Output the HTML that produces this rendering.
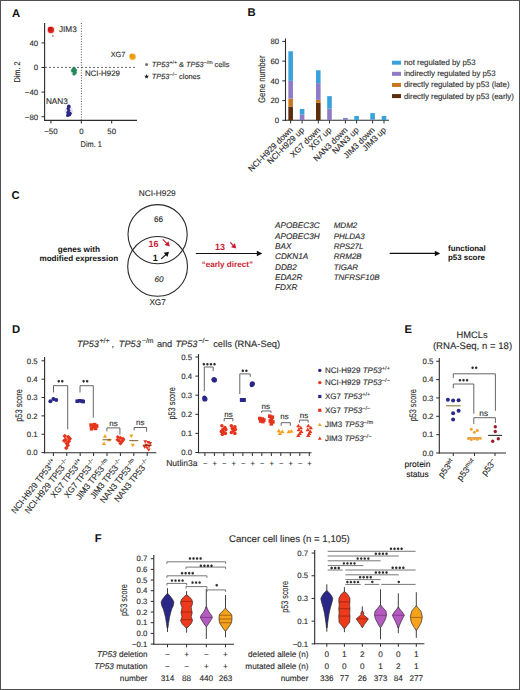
<!DOCTYPE html>
<html><head><meta charset="utf-8"><style>
html,body{margin:0;padding:0;background:#fff;}
body{width:520px;height:690px;overflow:hidden;}
svg{display:block;font-family:"Liberation Sans",sans-serif;text-rendering:geometricPrecision;}
</style></head><body>
<svg width="520" height="690" viewBox="0 0 520 690" fill="#2b2b2b">
<rect x="0" y="0" width="520" height="690" fill="#fff"/>
<text x="12.00" y="16.50" font-size="11.3" font-weight="bold" fill="#111" >A</text>
<line x1="81.40" y1="23.00" x2="81.40" y2="120.00" stroke="#444" stroke-width="0.9" stroke-dasharray="1,1.6"/>
<line x1="45.00" y1="67.40" x2="137.00" y2="67.40" stroke="#555" stroke-width="0.9" stroke-dasharray="2,2"/>
<line x1="44.60" y1="23.00" x2="44.60" y2="120.90" stroke="#2b2b2b" stroke-width="1.1" />
<line x1="44.10" y1="120.40" x2="137.00" y2="120.40" stroke="#2b2b2b" stroke-width="1.1" />
<line x1="41.50" y1="42.90" x2="44.60" y2="42.90" stroke="#2b2b2b" stroke-width="1" />
<text x="38.10" y="45.70" font-size="7.8" text-anchor="end" stroke="#2b2b2b" stroke-width="0.12" >40</text>
<line x1="41.50" y1="67.50" x2="44.60" y2="67.50" stroke="#2b2b2b" stroke-width="1" />
<text x="38.10" y="70.30" font-size="7.8" text-anchor="end" stroke="#2b2b2b" stroke-width="0.12" >0</text>
<line x1="41.50" y1="92.10" x2="44.60" y2="92.10" stroke="#2b2b2b" stroke-width="1" />
<text x="38.10" y="94.90" font-size="7.8" text-anchor="end" stroke="#2b2b2b" stroke-width="0.12" >−40</text>
<line x1="41.50" y1="116.70" x2="44.60" y2="116.70" stroke="#2b2b2b" stroke-width="1" />
<text x="38.10" y="119.50" font-size="7.8" text-anchor="end" stroke="#2b2b2b" stroke-width="0.12" >−80</text>
<line x1="50.90" y1="120.40" x2="50.90" y2="123.50" stroke="#2b2b2b" stroke-width="1" />
<text x="50.90" y="134.00" font-size="7.8" text-anchor="middle" stroke="#2b2b2b" stroke-width="0.12" >−50</text>
<line x1="81.30" y1="120.40" x2="81.30" y2="123.50" stroke="#2b2b2b" stroke-width="1" />
<text x="81.30" y="134.00" font-size="7.8" text-anchor="middle" stroke="#2b2b2b" stroke-width="0.12" >0</text>
<line x1="111.70" y1="120.40" x2="111.70" y2="123.50" stroke="#2b2b2b" stroke-width="1" />
<text x="111.70" y="134.00" font-size="7.8" text-anchor="middle" stroke="#2b2b2b" stroke-width="0.12" >50</text>
<text x="91.30" y="146.60" font-size="8.2" text-anchor="middle" stroke="#2b2b2b" stroke-width="0.12" textLength="21.4" lengthAdjust="spacingAndGlyphs" >Dim. 1</text>
<text x="20.20" y="72.00" font-size="8.4" text-anchor="middle" stroke="#2b2b2b" stroke-width="0.12" textLength="21.2" lengthAdjust="spacingAndGlyphs" transform="rotate(-90 20.20 72.00)" >Dim. 2</text>
<circle cx="50.90" cy="29.90" r="4.0" fill="#f08080" opacity="0.35"/>
<circle cx="132.60" cy="56.70" r="3.8" fill="#f5c060" opacity="0.35"/>
<circle cx="74.00" cy="71.30" r="3.6" fill="#80c0a0" opacity="0.3"/>
<circle cx="68.80" cy="111.00" r="4.2" fill="#8080c0" opacity="0.25"/>
<circle cx="50.90" cy="29.90" r="3.1" fill="#e4201e" />
<circle cx="49.90" cy="29.10" r="2.0" fill="#cc1414" />
<circle cx="52.80" cy="36.00" r="1.0" fill="#b89090" />
<circle cx="132.60" cy="56.70" r="3.0" fill="#f2a31b" />
<circle cx="131.60" cy="55.80" r="2.0" fill="#ea9a10" />
<circle cx="74.00" cy="68.60" r="1.8" fill="#25875a" />
<circle cx="73.00" cy="70.60" r="2.0" fill="#25875a" />
<circle cx="74.80" cy="72.50" r="1.9" fill="#25875a" />
<circle cx="74.00" cy="74.00" r="1.6" fill="#25875a" />
<circle cx="75.50" cy="70.20" r="1.4" fill="#25875a" />
<circle cx="68.80" cy="106.50" r="1.9" fill="#2b2788" />
<circle cx="68.20" cy="108.60" r="1.6" fill="#2b2788" />
<circle cx="68.90" cy="110.60" r="1.5" fill="#2b2788" />
<circle cx="68.10" cy="112.60" r="1.8" fill="#2b2788" />
<circle cx="69.20" cy="114.50" r="2.1" fill="#2b2788" />
<circle cx="67.60" cy="115.40" r="1.6" fill="#2b2788" />
<circle cx="70.20" cy="113.20" r="1.5" fill="#2b2788" />
<text x="59.00" y="32.20" font-size="8.2" stroke="#2b2b2b" stroke-width="0.12" >JIM3</text>
<text x="110.70" y="57.00" font-size="7.4" stroke="#2b2b2b" stroke-width="0.12" >XG7</text>
<text x="84.90" y="76.40" font-size="7.9" stroke="#2b2b2b" stroke-width="0.12" >NCI-H929</text>
<text x="45.90" y="103.60" font-size="8.2" stroke="#2b2b2b" stroke-width="0.12" >NAN3</text>
<circle cx="146.60" cy="64.50" r="1.5" fill="#707070" />
<polygon points="146.60,74.10 147.26,75.69 148.98,75.83 147.67,76.95 148.07,78.62 146.60,77.72 145.13,78.62 145.53,76.95 144.22,75.83 145.94,75.69" fill="#222"/>
<text x="151.80" y="66.90" font-size="7.4" stroke="#2b2b2b" stroke-width="0.12" ><tspan font-style="italic">TP53</tspan><tspan font-size="5.2" dy="-3.2">+/+</tspan><tspan dy="3.2"> &amp; </tspan><tspan font-style="italic">TP53</tspan><tspan font-size="5.2" dy="-3.2">−/m</tspan><tspan dy="3.2"> cells</tspan></text>
<text x="151.80" y="79.00" font-size="7.4" stroke="#2b2b2b" stroke-width="0.12" ><tspan font-style="italic">TP53</tspan><tspan font-size="5.2" dy="-3.2">−/−</tspan><tspan dy="3.2"> clones</tspan></text>
<text x="247.60" y="16.30" font-size="11.3" font-weight="bold" fill="#111" >B</text>
<line x1="285.50" y1="38.50" x2="285.50" y2="120.80" stroke="#2b2b2b" stroke-width="1.1" />
<line x1="285.00" y1="120.30" x2="389.00" y2="120.30" stroke="#2b2b2b" stroke-width="1.1" />
<line x1="282.30" y1="120.30" x2="285.50" y2="120.30" stroke="#2b2b2b" stroke-width="1" />
<text x="279.10" y="123.10" font-size="7.8" text-anchor="end" stroke="#2b2b2b" stroke-width="0.12" >0</text>
<line x1="282.30" y1="100.58" x2="285.50" y2="100.58" stroke="#2b2b2b" stroke-width="1" />
<text x="279.10" y="103.38" font-size="7.8" text-anchor="end" stroke="#2b2b2b" stroke-width="0.12" >20</text>
<line x1="282.30" y1="80.86" x2="285.50" y2="80.86" stroke="#2b2b2b" stroke-width="1" />
<text x="279.10" y="83.66" font-size="7.8" text-anchor="end" stroke="#2b2b2b" stroke-width="0.12" >40</text>
<line x1="282.30" y1="61.14" x2="285.50" y2="61.14" stroke="#2b2b2b" stroke-width="1" />
<text x="279.10" y="63.94" font-size="7.8" text-anchor="end" stroke="#2b2b2b" stroke-width="0.12" >60</text>
<line x1="282.30" y1="41.42" x2="285.50" y2="41.42" stroke="#2b2b2b" stroke-width="1" />
<text x="279.10" y="44.22" font-size="7.8" text-anchor="end" stroke="#2b2b2b" stroke-width="0.12" >80</text>
<text x="265.40" y="79.20" font-size="9.5" text-anchor="middle" stroke="#2b2b2b" stroke-width="0.12" textLength="47.4" lengthAdjust="spacingAndGlyphs" transform="rotate(-90 265.40 79.20)" >Gene number</text>
<rect x="288.35" y="106.50" width="4.60" height="13.80" fill="#5b2d0c" />
<rect x="288.35" y="98.61" width="4.60" height="7.89" fill="#c8761f" />
<rect x="288.35" y="80.86" width="4.60" height="17.75" fill="#8d7bc5" />
<rect x="288.35" y="51.28" width="4.60" height="29.58" fill="#3aa2da" />
<line x1="290.65" y1="120.30" x2="290.65" y2="123.40" stroke="#2b2b2b" stroke-width="1" />
<rect x="299.80" y="114.38" width="4.60" height="5.92" fill="#8d7bc5" />
<rect x="299.80" y="108.96" width="4.60" height="5.42" fill="#3aa2da" />
<line x1="302.10" y1="120.30" x2="302.10" y2="123.40" stroke="#2b2b2b" stroke-width="1" />
<rect x="316.00" y="102.85" width="4.60" height="17.45" fill="#5b2d0c" />
<rect x="316.00" y="99.89" width="4.60" height="2.96" fill="#c8761f" />
<rect x="316.00" y="83.13" width="4.60" height="16.76" fill="#8d7bc5" />
<rect x="316.00" y="70.31" width="4.60" height="12.82" fill="#3aa2da" />
<line x1="318.30" y1="120.30" x2="318.30" y2="123.40" stroke="#2b2b2b" stroke-width="1" />
<rect x="327.20" y="108.47" width="4.60" height="11.83" fill="#8d7bc5" />
<rect x="327.20" y="96.14" width="4.60" height="12.32" fill="#3aa2da" />
<line x1="329.50" y1="120.30" x2="329.50" y2="123.40" stroke="#2b2b2b" stroke-width="1" />
<rect x="343.10" y="119.12" width="4.60" height="1.18" fill="#8d7bc5" />
<rect x="343.10" y="117.93" width="4.60" height="1.18" fill="#6f8fb8" />
<line x1="345.40" y1="120.30" x2="345.40" y2="123.40" stroke="#2b2b2b" stroke-width="1" />
<rect x="354.30" y="115.96" width="4.60" height="4.34" fill="#3aa2da" />
<line x1="356.60" y1="120.30" x2="356.60" y2="123.40" stroke="#2b2b2b" stroke-width="1" />
<rect x="370.30" y="119.51" width="4.60" height="0.79" fill="#8d7bc5" />
<rect x="370.30" y="113.10" width="4.60" height="6.41" fill="#3aa2da" />
<line x1="372.60" y1="120.30" x2="372.60" y2="123.40" stroke="#2b2b2b" stroke-width="1" />
<rect x="381.70" y="115.96" width="4.60" height="4.34" fill="#3aa2da" />
<line x1="384.00" y1="120.30" x2="384.00" y2="123.40" stroke="#2b2b2b" stroke-width="1" />
<text x="293.25" y="130.60" font-size="8.3" text-anchor="end" stroke="#2b2b2b" stroke-width="0.12" transform="rotate(-45 293.25 130.60)" >NCI-H929 down</text>
<text x="304.70" y="130.60" font-size="8.3" text-anchor="end" stroke="#2b2b2b" stroke-width="0.12" transform="rotate(-45 304.70 130.60)" >NCI-H929 up</text>
<text x="320.90" y="130.60" font-size="8.3" text-anchor="end" stroke="#2b2b2b" stroke-width="0.12" transform="rotate(-45 320.90 130.60)" >XG7 down</text>
<text x="332.10" y="130.60" font-size="8.3" text-anchor="end" stroke="#2b2b2b" stroke-width="0.12" transform="rotate(-45 332.10 130.60)" >XG7 up</text>
<text x="348.00" y="130.60" font-size="8.3" text-anchor="end" stroke="#2b2b2b" stroke-width="0.12" transform="rotate(-45 348.00 130.60)" >NAN3 down</text>
<text x="359.20" y="130.60" font-size="8.3" text-anchor="end" stroke="#2b2b2b" stroke-width="0.12" transform="rotate(-45 359.20 130.60)" >NAN3 up</text>
<text x="375.20" y="130.60" font-size="8.3" text-anchor="end" stroke="#2b2b2b" stroke-width="0.12" transform="rotate(-45 375.20 130.60)" >JIM3 down</text>
<text x="386.60" y="130.60" font-size="8.3" text-anchor="end" stroke="#2b2b2b" stroke-width="0.12" transform="rotate(-45 386.60 130.60)" >JIM3 up</text>
<rect x="392.00" y="60.70" width="9.00" height="4.00" fill="#3aa2da" />
<text x="404.00" y="65.20" font-size="7.85" stroke="#2b2b2b" stroke-width="0.12" >not regulated by p53</text>
<rect x="392.00" y="71.83" width="9.00" height="4.00" fill="#8d7bc5" />
<text x="404.00" y="76.33" font-size="7.85" stroke="#2b2b2b" stroke-width="0.12" >indirectly regulated by p53</text>
<rect x="392.00" y="82.96" width="9.00" height="4.00" fill="#c8761f" />
<text x="404.00" y="87.46" font-size="7.85" stroke="#2b2b2b" stroke-width="0.12" >directly regulated by p53 (late)</text>
<rect x="392.00" y="94.09" width="9.00" height="4.00" fill="#5b2d0c" />
<text x="404.00" y="98.59" font-size="7.85" stroke="#2b2b2b" stroke-width="0.12" >directly regulated by p53 (early)</text>
<text x="11.60" y="198.50" font-size="11.3" font-weight="bold" fill="#111" >C</text>
<text x="157.20" y="195.80" font-size="8.3" text-anchor="middle" stroke="#2b2b2b" stroke-width="0.12" >NCI-H929</text>
<circle cx="157.6" cy="234.2" r="29.6" fill="none" stroke="#2b2b2b" stroke-width="1.1"/>
<circle cx="157.6" cy="266.4" r="29.9" fill="none" stroke="#2b2b2b" stroke-width="1.1"/>
<text x="158.50" y="221.60" font-size="8.2" text-anchor="middle" stroke="#2b2b2b" stroke-width="0.12" >66</text>
<text x="153.60" y="247.30" font-size="9" text-anchor="middle" font-weight="bold" fill="#cc1a30" >16</text>
<line x1="162.70" y1="239.30" x2="168.03" y2="244.63" stroke="#cc1a30" stroke-width="1.2" />
<polygon points="169.80,246.40 164.60,245.10 168.50,241.20" fill="#cc1a30"/>
<text x="155.30" y="260.60" font-size="9" text-anchor="middle" font-weight="bold" fill="#111" >1</text>
<line x1="161.20" y1="258.90" x2="167.15" y2="253.48" stroke="#111" stroke-width="1.2" />
<polygon points="169.00,251.80 167.46,256.94 163.74,252.86" fill="#111"/>
<text x="159.00" y="282.40" font-size="8.2" text-anchor="middle" font-style="italic" stroke="#2b2b2b" stroke-width="0.12" >60</text>
<text x="157.60" y="304.80" font-size="8.2" text-anchor="middle" stroke="#2b2b2b" stroke-width="0.12" >XG7</text>
<text x="78.80" y="252.40" font-size="8.2" text-anchor="middle" font-weight="bold" fill="#111" >genes with</text>
<text x="78.80" y="261.20" font-size="8.1" text-anchor="middle" font-weight="bold" fill="#111" >modified expression</text>
<line x1="195.80" y1="253.50" x2="258.00" y2="253.50" stroke="#111" stroke-width="1.1" />
<polygon points="262.30,253.50 256.80,256.25 256.80,250.75" fill="#111"/>
<text x="220.00" y="250.30" font-size="9" text-anchor="middle" font-weight="bold" fill="#cc1a30" >13</text>
<line x1="230.30" y1="242.40" x2="234.48" y2="246.79" stroke="#cc1a30" stroke-width="1.2" />
<polygon points="236.20,248.60 231.03,247.17 235.03,243.37" fill="#cc1a30"/>
<text x="227.30" y="266.50" font-size="8.1" text-anchor="middle" font-weight="bold" fill="#cc1a30" >“early direct”</text>
<text x="275.00" y="228.40" font-size="8.2" font-style="italic" stroke="#2b2b2b" stroke-width="0.12" >APOBEC3C</text>
<text x="275.00" y="238.70" font-size="8.2" font-style="italic" stroke="#2b2b2b" stroke-width="0.12" >APOBEC3H</text>
<text x="275.00" y="249.00" font-size="8.2" font-style="italic" stroke="#2b2b2b" stroke-width="0.12" >BAX</text>
<text x="275.00" y="259.30" font-size="8.2" font-style="italic" stroke="#2b2b2b" stroke-width="0.12" >CDKN1A</text>
<text x="275.00" y="269.60" font-size="8.2" font-style="italic" stroke="#2b2b2b" stroke-width="0.12" >DDB2</text>
<text x="275.00" y="279.90" font-size="8.2" font-style="italic" stroke="#2b2b2b" stroke-width="0.12" >EDA2R</text>
<text x="275.00" y="290.20" font-size="8.2" font-style="italic" stroke="#2b2b2b" stroke-width="0.12" >FDXR</text>
<text x="333.70" y="228.40" font-size="8.0" font-style="italic" stroke="#2b2b2b" stroke-width="0.12" >MDM2</text>
<text x="333.70" y="238.70" font-size="8.0" font-style="italic" stroke="#2b2b2b" stroke-width="0.12" >PHLDA3</text>
<text x="333.70" y="249.00" font-size="8.0" font-style="italic" stroke="#2b2b2b" stroke-width="0.12" >RPS27L</text>
<text x="333.70" y="259.30" font-size="8.0" font-style="italic" stroke="#2b2b2b" stroke-width="0.12" >RRM2B</text>
<text x="333.70" y="269.60" font-size="8.0" font-style="italic" stroke="#2b2b2b" stroke-width="0.12" >TIGAR</text>
<text x="333.70" y="279.90" font-size="8.0" font-style="italic" stroke="#2b2b2b" stroke-width="0.12" >TNFRSF10B</text>
<line x1="389.70" y1="253.40" x2="436.00" y2="253.40" stroke="#111" stroke-width="1.1" />
<polygon points="440.30,253.40 434.80,256.15 434.80,250.65" fill="#111"/>
<text x="448.00" y="250.80" font-size="7.9" font-weight="bold" fill="#111" >functional</text>
<text x="448.00" y="260.40" font-size="7.9" font-weight="bold" fill="#111" >p53 score</text>
<text x="12.00" y="332.50" font-size="11.3" font-weight="bold" fill="#111" >D</text>
<text x="77.00" y="347.20" font-size="9.2" font-style="italic" stroke="#2b2b2b" stroke-width="0.12" >TP53</text>
<text x="99.40" y="342.60" font-size="7.0" stroke="#2b2b2b" stroke-width="0.12" >+/+</text>
<text x="111.40" y="347.20" font-size="9.2" stroke="#2b2b2b" stroke-width="0.12" >,</text>
<text x="118.80" y="347.20" font-size="9.2" font-style="italic" stroke="#2b2b2b" stroke-width="0.12" >TP53</text>
<text x="142.00" y="342.60" font-size="6.8" stroke="#2b2b2b" stroke-width="0.12" >−/m</text>
<text x="156.90" y="347.20" font-size="9.2" stroke="#2b2b2b" stroke-width="0.12" >and</text>
<text x="175.50" y="347.20" font-size="9.2" font-style="italic" stroke="#2b2b2b" stroke-width="0.12" >TP53</text>
<text x="198.20" y="342.60" font-size="7.2" stroke="#2b2b2b" stroke-width="0.12" >−/−</text>
<text x="213.20" y="347.20" font-size="9.2" stroke="#2b2b2b" stroke-width="0.12" textLength="67.0" lengthAdjust="spacingAndGlyphs" >cells (RNA-Seq)</text>
<line x1="44.60" y1="357.00" x2="44.60" y2="453.20" stroke="#2b2b2b" stroke-width="1.1" />
<line x1="44.10" y1="452.80" x2="156.30" y2="452.80" stroke="#2b2b2b" stroke-width="1.1" />
<line x1="41.50" y1="452.60" x2="44.60" y2="452.60" stroke="#2b2b2b" stroke-width="1" />
<text x="37.70" y="455.30" font-size="7.8" text-anchor="end" stroke="#2b2b2b" stroke-width="0.12" >0.0</text>
<line x1="41.50" y1="434.24" x2="44.60" y2="434.24" stroke="#2b2b2b" stroke-width="1" />
<text x="37.70" y="436.94" font-size="7.8" text-anchor="end" stroke="#2b2b2b" stroke-width="0.12" >0.1</text>
<line x1="41.50" y1="415.88" x2="44.60" y2="415.88" stroke="#2b2b2b" stroke-width="1" />
<text x="37.70" y="418.58" font-size="7.8" text-anchor="end" stroke="#2b2b2b" stroke-width="0.12" >0.2</text>
<line x1="41.50" y1="397.52" x2="44.60" y2="397.52" stroke="#2b2b2b" stroke-width="1" />
<text x="37.70" y="400.22" font-size="7.8" text-anchor="end" stroke="#2b2b2b" stroke-width="0.12" >0.3</text>
<line x1="41.50" y1="379.16" x2="44.60" y2="379.16" stroke="#2b2b2b" stroke-width="1" />
<text x="37.70" y="381.86" font-size="7.8" text-anchor="end" stroke="#2b2b2b" stroke-width="0.12" >0.4</text>
<line x1="41.50" y1="360.80" x2="44.60" y2="360.80" stroke="#2b2b2b" stroke-width="1" />
<text x="37.70" y="363.50" font-size="7.8" text-anchor="end" stroke="#2b2b2b" stroke-width="0.12" >0.5</text>
<text x="21.60" y="405.50" font-size="9.5" text-anchor="middle" stroke="#2b2b2b" stroke-width="0.12" textLength="32.6" lengthAdjust="spacingAndGlyphs" transform="rotate(-90 21.60 405.50)" >p53 score</text>
<line x1="53.40" y1="452.80" x2="53.40" y2="456.00" stroke="#2b2b2b" stroke-width="1" />
<line x1="66.80" y1="452.80" x2="66.80" y2="456.00" stroke="#2b2b2b" stroke-width="1" />
<line x1="80.20" y1="452.80" x2="80.20" y2="456.00" stroke="#2b2b2b" stroke-width="1" />
<line x1="93.60" y1="452.80" x2="93.60" y2="456.00" stroke="#2b2b2b" stroke-width="1" />
<line x1="107.00" y1="452.80" x2="107.00" y2="456.00" stroke="#2b2b2b" stroke-width="1" />
<line x1="120.40" y1="452.80" x2="120.40" y2="456.00" stroke="#2b2b2b" stroke-width="1" />
<line x1="133.80" y1="452.80" x2="133.80" y2="456.00" stroke="#2b2b2b" stroke-width="1" />
<line x1="147.20" y1="452.80" x2="147.20" y2="456.00" stroke="#2b2b2b" stroke-width="1" />
<circle cx="50.40" cy="401.19" r="2.0" fill="#2b2788" />
<circle cx="53.40" cy="398.99" r="2.0" fill="#2b2788" />
<circle cx="56.20" cy="399.91" r="2.0" fill="#2b2788" />
<polygon points="64.80,433.78 67.10,436.08 64.80,438.38 62.50,436.08" fill="#e5331c"/>
<polygon points="68.30,434.69 70.60,436.99 68.30,439.29 66.00,436.99" fill="#e5331c"/>
<polygon points="69.80,436.53 72.10,438.83 69.80,441.13 67.50,438.83" fill="#e5331c"/>
<polygon points="65.80,437.45 68.10,439.75 65.80,442.05 63.50,439.75" fill="#e5331c"/>
<polygon points="68.80,439.28 71.10,441.58 68.80,443.88 66.50,441.58" fill="#e5331c"/>
<polygon points="64.30,438.37 66.60,440.67 64.30,442.97 62.00,440.67" fill="#e5331c"/>
<polygon points="66.80,441.12 69.10,443.42 66.80,445.72 64.50,443.42" fill="#e5331c"/>
<polygon points="67.80,442.96 70.10,445.26 67.80,447.56 65.50,445.26" fill="#e5331c"/>
<polygon points="66.30,445.71 68.60,448.01 66.30,450.31 64.00,448.01" fill="#e5331c"/>
<rect x="75.40" y="399.39" width="3.60" height="3.60" fill="#2b2788" />
<rect x="77.90" y="399.02" width="3.60" height="3.60" fill="#2b2788" />
<rect x="80.40" y="399.39" width="3.60" height="3.60" fill="#2b2788" />
<rect x="81.40" y="399.76" width="3.60" height="3.60" fill="#2b2788" />
<rect x="89.30" y="423.26" width="3.60" height="3.60" fill="#e5331c" />
<rect x="92.80" y="422.89" width="3.60" height="3.60" fill="#e5331c" />
<rect x="94.80" y="424.18" width="3.60" height="3.60" fill="#e5331c" />
<rect x="89.80" y="426.93" width="3.60" height="3.60" fill="#e5331c" />
<rect x="93.80" y="426.56" width="3.60" height="3.60" fill="#e5331c" />
<rect x="91.80" y="425.10" width="3.60" height="3.60" fill="#e5331c" />
<polygon points="102.90,437.65 107.10,437.65 105.00,434.08" fill="#f5a01d"/>
<polygon points="101.90,445.00 106.10,445.00 104.00,441.43" fill="#f5a01d"/>
<polygon points="106.90,441.32 111.10,441.32 109.00,437.75" fill="#f5a01d"/>
<line x1="102.50" y1="439.75" x2="111.50" y2="439.75" stroke="#7a5a20" stroke-width="1" />
<polygon points="117.90,434.89 120.00,436.99 117.90,439.09 115.80,436.99" fill="#e5331c"/>
<polygon points="120.40,435.81 122.50,437.91 120.40,440.01 118.30,437.91" fill="#e5331c"/>
<polygon points="122.90,436.73 125.00,438.83 122.90,440.93 120.80,438.83" fill="#e5331c"/>
<polygon points="118.90,438.57 121.00,440.67 118.90,442.77 116.80,440.67" fill="#e5331c"/>
<polygon points="121.90,439.48 124.00,441.58 121.90,443.68 119.80,441.58" fill="#e5331c"/>
<polygon points="123.40,437.65 125.50,439.75 123.40,441.85 121.30,439.75" fill="#e5331c"/>
<polygon points="117.40,437.65 119.50,439.75 117.40,441.85 115.30,439.75" fill="#e5331c"/>
<polygon points="120.40,441.32 122.50,443.42 120.40,445.52 118.30,443.42" fill="#e5331c"/>
<polygon points="129.20,434.50 133.40,434.50 131.30,438.07" fill="#f5a01d"/>
<polygon points="130.70,443.68 134.90,443.68 132.80,447.25" fill="#f5a01d"/>
<line x1="129.30" y1="440.67" x2="138.30" y2="440.67" stroke="#7a5a20" stroke-width="1" />
<polygon points="143.30,440.16 147.10,440.16 145.20,443.39" fill="#e5331c"/>
<polygon points="146.30,441.08 150.10,441.08 148.20,444.31" fill="#e5331c"/>
<polygon points="148.30,442.00 152.10,442.00 150.20,445.23" fill="#e5331c"/>
<polygon points="144.30,443.83 148.10,443.83 146.20,447.06" fill="#e5331c"/>
<polygon points="147.30,444.75 151.10,444.75 149.20,447.98" fill="#e5331c"/>
<polygon points="145.30,446.59 149.10,446.59 147.20,449.82" fill="#e5331c"/>
<polygon points="142.80,445.67 146.60,445.67 144.70,448.90" fill="#e5331c"/>
<polygon points="146.80,448.42 150.60,448.42 148.70,451.65" fill="#e5331c"/>
<line x1="142.70" y1="445.26" x2="151.70" y2="445.26" stroke="#7a2010" stroke-width="1" />
<polyline points="53.50,392.50 53.50,385.70 67.70,385.70 67.70,429.30" fill="none" stroke="#555" stroke-width="0.9"/>
<polygon points="58.73,379.70 59.27,380.26 60.02,380.45 59.80,381.20 60.02,381.95 59.27,382.14 58.73,382.70 58.19,382.14 57.43,381.95 57.65,381.20 57.43,380.45 58.19,380.26" fill="#2e2e2e"/>
<polygon points="62.27,379.70 62.81,380.26 63.57,380.45 63.35,381.20 63.57,381.95 62.81,382.14 62.27,382.70 61.73,382.14 60.98,381.95 61.20,381.20 60.98,380.45 61.73,380.26" fill="#2e2e2e"/>
<polyline points="80.00,392.50 80.00,385.70 93.30,385.70 93.30,417.60" fill="none" stroke="#555" stroke-width="0.9"/>
<polygon points="83.62,379.70 84.17,380.26 84.92,380.45 84.70,381.20 84.92,381.95 84.17,382.14 83.62,382.70 83.08,382.14 82.33,381.95 82.55,381.20 82.33,380.45 83.08,380.26" fill="#2e2e2e"/>
<polygon points="87.18,379.70 87.72,380.26 88.47,380.45 88.26,381.20 88.47,381.95 87.72,382.14 87.18,382.70 86.64,382.14 85.88,381.95 86.10,381.20 85.88,380.45 86.64,380.26" fill="#2e2e2e"/>
<polyline points="106.90,431.40 106.90,427.90 119.90,427.90 119.90,434.60" fill="none" stroke="#555" stroke-width="0.9"/>
<text x="113.50" y="426.08" font-size="8" text-anchor="middle" stroke="#2b2b2b" stroke-width="0.12" >ns</text>
<polyline points="134.10,430.30 134.10,427.50 146.60,427.50 146.60,431.70" fill="none" stroke="#555" stroke-width="0.9"/>
<text x="140.20" y="424.98" font-size="8" text-anchor="middle" stroke="#2b2b2b" stroke-width="0.12" >ns</text>
<text x="56.40" y="462.00" font-size="8.8" text-anchor="end" stroke="#2b2b2b" stroke-width="0.12" textLength="66.35" lengthAdjust="spacingAndGlyphs" transform="rotate(-52 56.40 462.00)" >NCI-H929 TP53<tspan font-size="5.6" dy="-3.2">+/+</tspan></text>
<text x="69.80" y="462.00" font-size="8.8" text-anchor="end" stroke="#2b2b2b" stroke-width="0.12" textLength="66.35" lengthAdjust="spacingAndGlyphs" transform="rotate(-52 69.80 462.00)" >NCI-H929 TP53<tspan font-size="5.6" dy="-3.2">−/−</tspan></text>
<text x="83.20" y="462.00" font-size="8.8" text-anchor="end" stroke="#2b2b2b" stroke-width="0.12" textLength="46.17" lengthAdjust="spacingAndGlyphs" transform="rotate(-52 83.20 462.00)" >XG7 TP53<tspan font-size="5.6" dy="-3.2">+/+</tspan></text>
<text x="96.60" y="462.00" font-size="8.8" text-anchor="end" stroke="#2b2b2b" stroke-width="0.12" textLength="46.17" lengthAdjust="spacingAndGlyphs" transform="rotate(-52 96.60 462.00)" >XG7 TP53<tspan font-size="5.6" dy="-3.2">−/−</tspan></text>
<text x="110.00" y="462.00" font-size="8.8" text-anchor="end" stroke="#2b2b2b" stroke-width="0.12" textLength="48.88" lengthAdjust="spacingAndGlyphs" transform="rotate(-52 110.00 462.00)" >JIM3 TP53<tspan font-size="5.6" dy="-3.2">−/m</tspan></text>
<text x="123.40" y="462.00" font-size="8.8" text-anchor="end" stroke="#2b2b2b" stroke-width="0.12" textLength="47.54" lengthAdjust="spacingAndGlyphs" transform="rotate(-52 123.40 462.00)" >JIM3 TP53<tspan font-size="5.6" dy="-3.2">−/−</tspan></text>
<text x="136.80" y="462.00" font-size="8.8" text-anchor="end" stroke="#2b2b2b" stroke-width="0.12" textLength="53.01" lengthAdjust="spacingAndGlyphs" transform="rotate(-52 136.80 462.00)" >NAN3 TP53<tspan font-size="5.6" dy="-3.2">−/m</tspan></text>
<text x="150.20" y="462.00" font-size="8.8" text-anchor="end" stroke="#2b2b2b" stroke-width="0.12" textLength="51.67" lengthAdjust="spacingAndGlyphs" transform="rotate(-52 150.20 462.00)" >NAN3 TP53<tspan font-size="5.6" dy="-3.2">−/−</tspan></text>
<line x1="198.50" y1="354.00" x2="198.50" y2="453.20" stroke="#2b2b2b" stroke-width="1.1" />
<line x1="198.00" y1="452.80" x2="311.50" y2="452.80" stroke="#2b2b2b" stroke-width="1.1" />
<line x1="195.40" y1="452.50" x2="198.50" y2="452.50" stroke="#2b2b2b" stroke-width="1" />
<text x="192.10" y="455.20" font-size="7.8" text-anchor="end" stroke="#2b2b2b" stroke-width="0.12" >0.0</text>
<line x1="195.40" y1="433.40" x2="198.50" y2="433.40" stroke="#2b2b2b" stroke-width="1" />
<text x="192.10" y="436.10" font-size="7.8" text-anchor="end" stroke="#2b2b2b" stroke-width="0.12" >0.1</text>
<line x1="195.40" y1="414.30" x2="198.50" y2="414.30" stroke="#2b2b2b" stroke-width="1" />
<text x="192.10" y="417.00" font-size="7.8" text-anchor="end" stroke="#2b2b2b" stroke-width="0.12" >0.2</text>
<line x1="195.40" y1="395.20" x2="198.50" y2="395.20" stroke="#2b2b2b" stroke-width="1" />
<text x="192.10" y="397.90" font-size="7.8" text-anchor="end" stroke="#2b2b2b" stroke-width="0.12" >0.3</text>
<line x1="195.40" y1="376.10" x2="198.50" y2="376.10" stroke="#2b2b2b" stroke-width="1" />
<text x="192.10" y="378.80" font-size="7.8" text-anchor="end" stroke="#2b2b2b" stroke-width="0.12" >0.4</text>
<line x1="195.40" y1="357.00" x2="198.50" y2="357.00" stroke="#2b2b2b" stroke-width="1" />
<text x="192.10" y="359.70" font-size="7.8" text-anchor="end" stroke="#2b2b2b" stroke-width="0.12" >0.5</text>
<text x="175.30" y="403.40" font-size="9.5" text-anchor="middle" stroke="#2b2b2b" stroke-width="0.12" textLength="32.4" lengthAdjust="spacingAndGlyphs" transform="rotate(-90 175.30 403.40)" >p53 score</text>
<line x1="204.90" y1="452.80" x2="204.90" y2="456.00" stroke="#2b2b2b" stroke-width="1" />
<text x="205.20" y="466.20" font-size="7.6" text-anchor="middle" stroke="#2b2b2b" stroke-width="0.12" >−</text>
<line x1="214.39" y1="452.80" x2="214.39" y2="456.00" stroke="#2b2b2b" stroke-width="1" />
<text x="214.69" y="466.20" font-size="7.6" text-anchor="middle" stroke="#2b2b2b" stroke-width="0.12" >+</text>
<line x1="223.88" y1="452.80" x2="223.88" y2="456.00" stroke="#2b2b2b" stroke-width="1" />
<text x="224.18" y="466.20" font-size="7.6" text-anchor="middle" stroke="#2b2b2b" stroke-width="0.12" >−</text>
<line x1="233.37" y1="452.80" x2="233.37" y2="456.00" stroke="#2b2b2b" stroke-width="1" />
<text x="233.67" y="466.20" font-size="7.6" text-anchor="middle" stroke="#2b2b2b" stroke-width="0.12" >+</text>
<line x1="242.86" y1="452.80" x2="242.86" y2="456.00" stroke="#2b2b2b" stroke-width="1" />
<text x="243.16" y="466.20" font-size="7.6" text-anchor="middle" stroke="#2b2b2b" stroke-width="0.12" >−</text>
<line x1="252.35" y1="452.80" x2="252.35" y2="456.00" stroke="#2b2b2b" stroke-width="1" />
<text x="252.65" y="466.20" font-size="7.6" text-anchor="middle" stroke="#2b2b2b" stroke-width="0.12" >+</text>
<line x1="261.84" y1="452.80" x2="261.84" y2="456.00" stroke="#2b2b2b" stroke-width="1" />
<text x="262.14" y="466.20" font-size="7.6" text-anchor="middle" stroke="#2b2b2b" stroke-width="0.12" >−</text>
<line x1="271.33" y1="452.80" x2="271.33" y2="456.00" stroke="#2b2b2b" stroke-width="1" />
<text x="271.63" y="466.20" font-size="7.6" text-anchor="middle" stroke="#2b2b2b" stroke-width="0.12" >+</text>
<line x1="280.82" y1="452.80" x2="280.82" y2="456.00" stroke="#2b2b2b" stroke-width="1" />
<text x="281.12" y="466.20" font-size="7.6" text-anchor="middle" stroke="#2b2b2b" stroke-width="0.12" >−</text>
<line x1="290.31" y1="452.80" x2="290.31" y2="456.00" stroke="#2b2b2b" stroke-width="1" />
<text x="290.61" y="466.20" font-size="7.6" text-anchor="middle" stroke="#2b2b2b" stroke-width="0.12" >+</text>
<line x1="299.80" y1="452.80" x2="299.80" y2="456.00" stroke="#2b2b2b" stroke-width="1" />
<text x="300.10" y="466.20" font-size="7.6" text-anchor="middle" stroke="#2b2b2b" stroke-width="0.12" >−</text>
<line x1="309.29" y1="452.80" x2="309.29" y2="456.00" stroke="#2b2b2b" stroke-width="1" />
<text x="309.59" y="466.20" font-size="7.6" text-anchor="middle" stroke="#2b2b2b" stroke-width="0.12" >+</text>
<text x="197.40" y="466.20" font-size="8.5" text-anchor="end" stroke="#2b2b2b" stroke-width="0.12" >Nutlin3a</text>
<circle cx="204.90" cy="399.02" r="2.6" fill="#2b2788" />
<circle cx="204.40" cy="397.68" r="2.2" fill="#2b2788" />
<circle cx="214.39" cy="379.92" r="2.6" fill="#2b2788" />
<circle cx="213.59" cy="379.35" r="2.2" fill="#2b2788" />
<circle cx="221.88" cy="425.76" r="1.8" fill="#e5331c" />
<circle cx="224.88" cy="427.67" r="1.8" fill="#e5331c" />
<circle cx="222.88" cy="429.58" r="1.8" fill="#e5331c" />
<circle cx="225.88" cy="429.58" r="1.8" fill="#e5331c" />
<circle cx="221.38" cy="431.49" r="1.8" fill="#e5331c" />
<circle cx="223.88" cy="432.44" r="1.8" fill="#e5331c" />
<circle cx="222.38" cy="434.36" r="1.8" fill="#e5331c" />
<circle cx="225.38" cy="433.40" r="1.8" fill="#e5331c" />
<circle cx="231.37" cy="425.76" r="1.8" fill="#e5331c" />
<circle cx="234.87" cy="426.71" r="1.8" fill="#e5331c" />
<circle cx="232.37" cy="428.62" r="1.8" fill="#e5331c" />
<circle cx="235.37" cy="429.58" r="1.8" fill="#e5331c" />
<circle cx="233.37" cy="430.54" r="1.8" fill="#e5331c" />
<circle cx="231.37" cy="432.44" r="1.8" fill="#e5331c" />
<circle cx="234.87" cy="433.40" r="1.8" fill="#e5331c" />
<rect x="239.86" y="397.98" width="6.00" height="4.00" fill="#2b2788" />
<circle cx="252.35" cy="383.74" r="2.6" fill="#2b2788" />
<circle cx="251.75" cy="385.08" r="2.2" fill="#2b2788" />
<rect x="258.04" y="416.70" width="3.60" height="3.60" fill="#e5331c" />
<rect x="260.54" y="417.27" width="3.60" height="3.60" fill="#e5331c" />
<rect x="262.04" y="418.23" width="3.60" height="3.60" fill="#e5331c" />
<rect x="259.04" y="419.19" width="3.60" height="3.60" fill="#e5331c" />
<rect x="261.04" y="419.76" width="3.60" height="3.60" fill="#e5331c" />
<rect x="268.03" y="414.41" width="3.60" height="3.60" fill="#e5331c" />
<rect x="270.53" y="415.37" width="3.60" height="3.60" fill="#e5331c" />
<rect x="269.53" y="417.27" width="3.60" height="3.60" fill="#e5331c" />
<rect x="268.53" y="419.19" width="3.60" height="3.60" fill="#e5331c" />
<rect x="271.03" y="420.14" width="3.60" height="3.60" fill="#e5331c" />
<rect x="269.53" y="422.05" width="3.60" height="3.60" fill="#e5331c" />
<polygon points="276.62,432.19 281.02,432.19 278.82,428.45" fill="#f5a01d"/>
<polygon points="280.12,433.14 284.52,433.14 282.32,429.40" fill="#f5a01d"/>
<polygon points="277.62,435.05 282.02,435.05 279.82,431.31" fill="#f5a01d"/>
<polygon points="286.61,433.14 291.01,433.14 288.81,429.40" fill="#f5a01d"/>
<polygon points="289.11,432.76 293.51,432.76 291.31,429.02" fill="#f5a01d"/>
<polygon points="296.20,427.33 300.40,427.33 298.30,423.76" fill="#e5331c"/>
<polygon points="298.70,429.25 302.90,429.25 300.80,425.68" fill="#e5331c"/>
<polygon points="296.70,431.15 300.90,431.15 298.80,427.58" fill="#e5331c"/>
<polygon points="299.20,433.06 303.40,433.06 301.30,429.50" fill="#e5331c"/>
<polygon points="297.70,434.97 301.90,434.97 299.80,431.40" fill="#e5331c"/>
<polygon points="296.20,436.88 300.40,436.88 298.30,433.31" fill="#e5331c"/>
<polygon points="306.19,427.33 310.39,427.33 308.29,423.76" fill="#e5331c"/>
<polygon points="308.69,429.25 312.89,429.25 310.79,425.68" fill="#e5331c"/>
<polygon points="305.69,431.15 309.89,431.15 307.79,427.58" fill="#e5331c"/>
<polygon points="308.19,433.06 312.39,433.06 310.29,429.50" fill="#e5331c"/>
<polygon points="307.19,434.97 311.39,434.97 309.29,431.40" fill="#e5331c"/>
<polygon points="306.19,436.88 310.39,436.88 308.29,433.31" fill="#e5331c"/>
<polyline points="204.30,391.20 204.30,367.00 213.20,367.00 213.20,371.00" fill="none" stroke="#555" stroke-width="0.9"/>
<polygon points="203.88,362.80 204.41,363.36 205.17,363.55 204.96,364.30 205.17,365.05 204.41,365.24 203.88,365.80 203.34,365.24 202.58,365.05 202.79,364.30 202.58,363.55 203.34,363.36" fill="#2e2e2e"/>
<polygon points="207.42,362.80 207.96,363.36 208.72,363.55 208.50,364.30 208.72,365.05 207.96,365.24 207.42,365.80 206.88,365.24 206.13,365.05 206.34,364.30 206.13,363.55 206.88,363.36" fill="#2e2e2e"/>
<polygon points="210.97,362.80 211.51,363.36 212.27,363.55 212.06,364.30 212.27,365.05 211.51,365.24 210.97,365.80 210.44,365.24 209.68,365.05 209.89,364.30 209.68,363.55 210.44,363.36" fill="#2e2e2e"/>
<polygon points="214.52,362.80 215.06,363.36 215.82,363.55 215.60,364.30 215.82,365.05 215.06,365.24 214.52,365.80 213.98,365.24 213.23,365.05 213.44,364.30 213.23,363.55 213.98,363.36" fill="#2e2e2e"/>
<polyline points="224.20,421.30 224.20,418.50 232.90,418.50 232.90,421.30" fill="none" stroke="#555" stroke-width="0.9"/>
<text x="228.60" y="417.08" font-size="8" text-anchor="middle" stroke="#2b2b2b" stroke-width="0.12" >ns</text>
<polyline points="239.80,394.00 239.80,373.90 250.20,373.90 250.20,376.80" fill="none" stroke="#555" stroke-width="0.9"/>
<polygon points="242.82,369.30 243.36,369.86 244.12,370.05 243.91,370.80 244.12,371.55 243.36,371.74 242.82,372.30 242.28,371.74 241.53,371.55 241.74,370.80 241.53,370.05 242.28,369.86" fill="#2e2e2e"/>
<polygon points="246.38,369.30 246.91,369.86 247.67,370.05 247.46,370.80 247.67,371.55 246.91,371.74 246.38,372.30 245.84,371.74 245.08,371.55 245.29,370.80 245.08,370.05 245.84,369.86" fill="#2e2e2e"/>
<polyline points="261.70,412.90 261.70,411.00 271.00,411.00 271.00,412.90" fill="none" stroke="#555" stroke-width="0.9"/>
<text x="265.80" y="408.98" font-size="8" text-anchor="middle" stroke="#2b2b2b" stroke-width="0.12" >ns</text>
<polyline points="281.20,425.80 281.20,422.70 290.30,422.70 290.30,425.80" fill="none" stroke="#555" stroke-width="0.9"/>
<text x="284.50" y="418.98" font-size="8" text-anchor="middle" stroke="#2b2b2b" stroke-width="0.12" >ns</text>
<polyline points="299.40,422.70 299.40,420.10 308.10,420.10 308.10,422.70" fill="none" stroke="#555" stroke-width="0.9"/>
<text x="304.00" y="417.68" font-size="8" text-anchor="middle" stroke="#2b2b2b" stroke-width="0.12" >ns</text>
<circle cx="319.80" cy="370.40" r="1.7" fill="#2b2788" />
<text x="324.90" y="373.20" font-size="8.0" stroke="#2b2b2b" stroke-width="0.12" >NCI-H929 <tspan font-style="italic">TP53</tspan><tspan font-size="5.6" dy="-3.2">+/+</tspan></text>
<circle cx="319.80" cy="382.60" r="1.7" fill="#e5331c" />
<text x="324.90" y="385.40" font-size="8.0" stroke="#2b2b2b" stroke-width="0.12" >NCI-H929 <tspan font-style="italic">TP53</tspan><tspan font-size="5.6" dy="-3.2">−/−</tspan></text>
<rect x="318.20" y="394.90" width="3.20" height="3.20" fill="#2b2788" />
<text x="324.90" y="399.30" font-size="8.0" stroke="#2b2b2b" stroke-width="0.12" >XG7 <tspan font-style="italic">TP53</tspan><tspan font-size="5.6" dy="-3.2">+/+</tspan></text>
<rect x="318.20" y="408.70" width="3.20" height="3.20" fill="#e5331c" />
<text x="324.90" y="413.10" font-size="8.0" stroke="#2b2b2b" stroke-width="0.12" >XG7 <tspan font-style="italic">TP53</tspan><tspan font-size="5.6" dy="-3.2">−/−</tspan></text>
<polygon points="317.90,425.93 321.70,425.93 319.80,422.69" fill="#f5a01d"/>
<text x="324.90" y="427.30" font-size="8.0" stroke="#2b2b2b" stroke-width="0.12" >JIM3 <tspan font-style="italic">TP53</tspan><tspan font-size="5.6" dy="-3.2">−/m</tspan></text>
<polygon points="317.90,439.73 321.70,439.73 319.80,436.50" fill="#e5331c"/>
<text x="324.90" y="441.10" font-size="8.0" stroke="#2b2b2b" stroke-width="0.12" >JIM3 <tspan font-style="italic">TP53</tspan><tspan font-size="5.6" dy="-3.2">−/−</tspan></text>
<text x="404.60" y="332.70" font-size="11.3" font-weight="bold" fill="#111" >E</text>
<text x="472.10" y="338.10" font-size="9.3" text-anchor="middle" stroke="#2b2b2b" stroke-width="0.12" >HMCLs</text>
<text x="472.50" y="349.40" font-size="9.6" text-anchor="middle" stroke="#2b2b2b" stroke-width="0.12" >(RNA-Seq, n = 18)</text>
<line x1="439.30" y1="358.00" x2="439.30" y2="453.40" stroke="#2b2b2b" stroke-width="1.1" />
<line x1="438.80" y1="453.00" x2="506.00" y2="453.00" stroke="#2b2b2b" stroke-width="1.1" />
<line x1="436.20" y1="453.00" x2="439.30" y2="453.00" stroke="#2b2b2b" stroke-width="1" />
<text x="433.40" y="455.70" font-size="7.8" text-anchor="end" stroke="#2b2b2b" stroke-width="0.12" >0.0</text>
<line x1="436.20" y1="434.65" x2="439.30" y2="434.65" stroke="#2b2b2b" stroke-width="1" />
<text x="433.40" y="437.35" font-size="7.8" text-anchor="end" stroke="#2b2b2b" stroke-width="0.12" >0.1</text>
<line x1="436.20" y1="416.30" x2="439.30" y2="416.30" stroke="#2b2b2b" stroke-width="1" />
<text x="433.40" y="419.00" font-size="7.8" text-anchor="end" stroke="#2b2b2b" stroke-width="0.12" >0.2</text>
<line x1="436.20" y1="397.95" x2="439.30" y2="397.95" stroke="#2b2b2b" stroke-width="1" />
<text x="433.40" y="400.65" font-size="7.8" text-anchor="end" stroke="#2b2b2b" stroke-width="0.12" >0.3</text>
<line x1="436.20" y1="379.60" x2="439.30" y2="379.60" stroke="#2b2b2b" stroke-width="1" />
<text x="433.40" y="382.30" font-size="7.8" text-anchor="end" stroke="#2b2b2b" stroke-width="0.12" >0.4</text>
<line x1="436.20" y1="361.25" x2="439.30" y2="361.25" stroke="#2b2b2b" stroke-width="1" />
<text x="433.40" y="363.95" font-size="7.8" text-anchor="end" stroke="#2b2b2b" stroke-width="0.12" >0.5</text>
<text x="415.80" y="405.30" font-size="9.5" text-anchor="middle" stroke="#2b2b2b" stroke-width="0.12" textLength="32.0" lengthAdjust="spacingAndGlyphs" transform="rotate(-90 415.80 405.30)" >p53 score</text>
<line x1="453.30" y1="453.00" x2="453.30" y2="456.00" stroke="#2b2b2b" stroke-width="1" />
<line x1="474.50" y1="453.00" x2="474.50" y2="456.00" stroke="#2b2b2b" stroke-width="1" />
<line x1="495.00" y1="453.00" x2="495.00" y2="456.00" stroke="#2b2b2b" stroke-width="1" />
<circle cx="447.90" cy="399.80" r="2.0" fill="#2b2788" />
<circle cx="453.10" cy="400.60" r="2.0" fill="#2b2788" />
<circle cx="458.60" cy="400.20" r="2.0" fill="#2b2788" />
<circle cx="458.60" cy="410.80" r="2.0" fill="#2b2788" />
<circle cx="453.10" cy="413.30" r="2.0" fill="#2b2788" />
<circle cx="453.10" cy="419.40" r="2.0" fill="#2b2788" />
<line x1="446.20" y1="405.80" x2="460.60" y2="405.80" stroke="#8a7a40" stroke-width="1.1" />
<line x1="468.00" y1="437.80" x2="481.00" y2="437.80" stroke="#c08030" stroke-width="1.1" />
<circle cx="471.30" cy="429.30" r="1.5" fill="#f0a030" />
<circle cx="474.40" cy="432.30" r="1.5" fill="#f0a030" />
<circle cx="477.30" cy="430.60" r="1.5" fill="#f0a030" />
<circle cx="468.50" cy="438.50" r="1.5" fill="#f0a030" />
<circle cx="471.30" cy="439.50" r="1.5" fill="#f0a030" />
<circle cx="474.40" cy="438.80" r="1.5" fill="#f0a030" />
<circle cx="477.30" cy="439.30" r="1.5" fill="#f0a030" />
<circle cx="480.20" cy="438.30" r="1.5" fill="#f0a030" />
<circle cx="495.30" cy="426.70" r="1.7" fill="#9a1c2c" />
<circle cx="495.30" cy="431.50" r="1.7" fill="#9a1c2c" />
<circle cx="498.30" cy="438.80" r="1.7" fill="#9a1c2c" />
<circle cx="492.70" cy="441.30" r="1.7" fill="#9a1c2c" />
<line x1="488.10" y1="435.40" x2="502.10" y2="435.40" stroke="#333" stroke-width="1.1" />
<polyline points="453.30,377.90 453.30,373.80 495.40,373.80 495.40,410.80" fill="none" stroke="#555" stroke-width="0.9"/>
<polygon points="472.62,366.30 473.17,366.86 473.92,367.05 473.70,367.80 473.92,368.55 473.17,368.74 472.62,369.30 472.08,368.74 471.33,368.55 471.55,367.80 471.33,367.05 472.08,366.86" fill="#2e2e2e"/>
<polygon points="476.17,366.30 476.71,366.86 477.47,367.05 477.25,367.80 477.47,368.55 476.71,368.74 476.17,369.30 475.63,368.74 474.88,368.55 475.09,367.80 474.88,367.05 475.63,366.86" fill="#2e2e2e"/>
<polyline points="453.30,388.30 453.30,384.00 473.80,384.00 473.80,413.70" fill="none" stroke="#555" stroke-width="0.9"/>
<polygon points="459.95,378.70 460.49,379.26 461.25,379.45 461.03,380.20 461.25,380.95 460.49,381.14 459.95,381.70 459.41,381.14 458.65,380.95 458.87,380.20 458.65,379.45 459.41,379.26" fill="#2e2e2e"/>
<polygon points="463.50,378.70 464.04,379.26 464.80,379.45 464.58,380.20 464.80,380.95 464.04,381.14 463.50,381.70 462.96,381.14 462.20,380.95 462.42,380.20 462.20,379.45 462.96,379.26" fill="#2e2e2e"/>
<polygon points="467.05,378.70 467.59,379.26 468.35,379.45 468.13,380.20 468.35,380.95 467.59,381.14 467.05,381.70 466.51,381.14 465.75,380.95 465.97,380.20 465.75,379.45 466.51,379.26" fill="#2e2e2e"/>
<polyline points="473.80,424.00 473.80,417.70 495.40,417.70 495.40,422.90" fill="none" stroke="#555" stroke-width="0.9"/>
<text x="483.70" y="416.36" font-size="8.3" text-anchor="middle" stroke="#2b2b2b" stroke-width="0.12" >ns</text>
<text x="417.50" y="466.80" font-size="8.5" text-anchor="middle" fill="#111" stroke="#111" stroke-width="0.12" >protein</text>
<text x="417.50" y="477.00" font-size="8.5" text-anchor="middle" fill="#111" stroke="#111" stroke-width="0.12" >status</text>
<text x="454.90" y="462.00" font-size="8.8" text-anchor="end" stroke="#2b2b2b" stroke-width="0.12" transform="rotate(-52 454.90 462.00)" >p53<tspan font-size="6.0" dy="-3.0">wt</tspan></text>
<text x="476.10" y="462.00" font-size="8.8" text-anchor="end" stroke="#2b2b2b" stroke-width="0.12" transform="rotate(-52 476.10 462.00)" >p53<tspan font-size="6.0" dy="-3.0">mut</tspan></text>
<text x="496.60" y="462.00" font-size="8.8" text-anchor="end" stroke="#2b2b2b" stroke-width="0.12" transform="rotate(-52 496.60 462.00)" >p53<tspan font-size="6.0" dy="-3.0">−</tspan></text>
<text x="94.80" y="542.20" font-size="11.3" font-weight="bold" fill="#111" >F</text>
<line x1="153.80" y1="555.00" x2="153.80" y2="644.70" stroke="#2b2b2b" stroke-width="1.1" />
<line x1="153.30" y1="644.30" x2="234.00" y2="644.30" stroke="#2b2b2b" stroke-width="1.1" />
<line x1="150.70" y1="644.07" x2="153.80" y2="644.07" stroke="#2b2b2b" stroke-width="1" />
<text x="147.40" y="646.77" font-size="7.8" text-anchor="end" stroke="#2b2b2b" stroke-width="0.12" >−0.1</text>
<line x1="150.70" y1="633.40" x2="153.80" y2="633.40" stroke="#2b2b2b" stroke-width="1" />
<text x="147.40" y="636.10" font-size="7.8" text-anchor="end" stroke="#2b2b2b" stroke-width="0.12" >0.0</text>
<line x1="150.70" y1="622.73" x2="153.80" y2="622.73" stroke="#2b2b2b" stroke-width="1" />
<text x="147.40" y="625.43" font-size="7.8" text-anchor="end" stroke="#2b2b2b" stroke-width="0.12" >0.1</text>
<line x1="150.70" y1="612.06" x2="153.80" y2="612.06" stroke="#2b2b2b" stroke-width="1" />
<text x="147.40" y="614.76" font-size="7.8" text-anchor="end" stroke="#2b2b2b" stroke-width="0.12" >0.2</text>
<line x1="150.70" y1="601.39" x2="153.80" y2="601.39" stroke="#2b2b2b" stroke-width="1" />
<text x="147.40" y="604.09" font-size="7.8" text-anchor="end" stroke="#2b2b2b" stroke-width="0.12" >0.3</text>
<line x1="150.70" y1="590.72" x2="153.80" y2="590.72" stroke="#2b2b2b" stroke-width="1" />
<text x="147.40" y="593.42" font-size="7.8" text-anchor="end" stroke="#2b2b2b" stroke-width="0.12" >0.4</text>
<line x1="150.70" y1="580.05" x2="153.80" y2="580.05" stroke="#2b2b2b" stroke-width="1" />
<text x="147.40" y="582.75" font-size="7.8" text-anchor="end" stroke="#2b2b2b" stroke-width="0.12" >0.5</text>
<line x1="150.70" y1="569.38" x2="153.80" y2="569.38" stroke="#2b2b2b" stroke-width="1" />
<text x="147.40" y="572.08" font-size="7.8" text-anchor="end" stroke="#2b2b2b" stroke-width="0.12" >0.6</text>
<line x1="150.70" y1="558.71" x2="153.80" y2="558.71" stroke="#2b2b2b" stroke-width="1" />
<text x="147.40" y="561.41" font-size="7.8" text-anchor="end" stroke="#2b2b2b" stroke-width="0.12" >0.7</text>
<text x="126.60" y="600.00" font-size="9.5" text-anchor="middle" stroke="#2b2b2b" stroke-width="0.12" textLength="31.8" lengthAdjust="spacingAndGlyphs" transform="rotate(-90 126.60 600.00)" >p53 score</text>
<line x1="167.50" y1="644.30" x2="167.50" y2="647.30" stroke="#2b2b2b" stroke-width="1" />
<line x1="186.60" y1="644.30" x2="186.60" y2="647.30" stroke="#2b2b2b" stroke-width="1" />
<line x1="206.30" y1="644.30" x2="206.30" y2="647.30" stroke="#2b2b2b" stroke-width="1" />
<line x1="225.50" y1="644.30" x2="225.50" y2="647.30" stroke="#2b2b2b" stroke-width="1" />
<line x1="167.50" y1="588.16" x2="167.50" y2="632.01" stroke="#2a2a2a" stroke-width="0.9" />
<path d="M167.80,593.49 L170.00,596.05 L172.50,599.26 L173.90,602.03 L173.30,605.66 L171.70,608.97 L170.50,613.13 L169.50,617.39 L168.50,623.48 L167.90,628.06 L167.10,628.06 L166.50,623.48 L165.50,617.39 L164.50,613.13 L163.30,608.97 L161.70,605.66 L161.10,602.03 L162.50,599.26 L165.00,596.05 L167.20,593.49 Z" fill="#2b2788" stroke="#2a2a2a" stroke-width="0.7" stroke-linejoin="round"/>
<line x1="186.60" y1="591.15" x2="186.60" y2="632.76" stroke="#2a2a2a" stroke-width="0.9" />
<path d="M186.90,594.99 L189.10,596.59 L191.60,599.26 L192.40,601.39 L192.60,603.52 L191.20,607.37 L191.60,609.93 L192.20,612.81 L191.20,616.65 L192.20,619.53 L192.60,620.60 L191.10,623.80 L187.00,628.06 L186.20,628.06 L182.10,623.80 L180.60,620.60 L181.00,619.53 L182.00,616.65 L181.00,612.81 L181.60,609.93 L182.00,607.37 L180.60,603.52 L180.80,601.39 L181.60,599.26 L184.10,596.59 L186.30,594.99 Z" fill="#ee3a1c" stroke="#2a2a2a" stroke-width="0.7" stroke-linejoin="round"/>
<line x1="180.80" y1="601.39" x2="192.40" y2="601.39" stroke="#8a2010" stroke-width="0.7" />
<line x1="181.16" y1="612.06" x2="192.04" y2="612.06" stroke="#8a2010" stroke-width="0.7" />
<line x1="180.92" y1="619.74" x2="192.28" y2="619.74" stroke="#8a2010" stroke-width="0.7" />
<line x1="206.30" y1="588.91" x2="206.30" y2="638.95" stroke="#2a2a2a" stroke-width="0.9" />
<path d="M206.60,606.73 L207.80,609.93 L209.80,613.13 L211.50,615.26 L212.30,617.39 L211.30,619.53 L209.30,622.73 L206.60,626.57 L206.00,626.57 L203.30,622.73 L201.30,619.53 L200.30,617.39 L201.10,615.26 L202.80,613.13 L204.80,609.93 L206.00,606.73 Z" fill="#b45bc2" stroke="#2a2a2a" stroke-width="0.7" stroke-linejoin="round"/>
<line x1="200.30" y1="617.39" x2="212.30" y2="617.39" stroke="#7a2a80" stroke-width="0.7" />
<line x1="225.50" y1="594.99" x2="225.50" y2="637.35" stroke="#2a2a2a" stroke-width="0.9" />
<path d="M225.80,608.22 L228.00,610.99 L230.50,613.13 L231.80,615.26 L232.00,619.00 L231.50,622.73 L229.50,625.93 L227.30,629.13 L225.80,631.27 L225.20,631.27 L223.70,629.13 L221.50,625.93 L219.50,622.73 L219.00,619.00 L219.20,615.26 L220.50,613.13 L223.00,610.99 L225.20,608.22 Z" fill="#f7a21b" stroke="#2a2a2a" stroke-width="0.7" stroke-linejoin="round"/>
<line x1="219.20" y1="615.26" x2="231.80" y2="615.26" stroke="#8a5010" stroke-width="0.7" />
<line x1="219.00" y1="619.00" x2="232.00" y2="619.00" stroke="#8a5010" stroke-width="0.7" />
<line x1="219.50" y1="622.73" x2="231.50" y2="622.73" stroke="#8a5010" stroke-width="0.7" />
<polyline points="166.90,563.80 166.90,561.80 225.60,561.80 225.60,563.80" fill="none" stroke="#555" stroke-width="0.8"/>
<polygon points="189.98,557.00 190.52,557.56 191.27,557.75 191.06,558.50 191.27,559.25 190.52,559.44 189.98,560.00 189.44,559.44 188.68,559.25 188.90,558.50 188.68,557.75 189.44,557.56" fill="#2e2e2e"/>
<polygon points="193.53,557.00 194.06,557.56 194.82,557.75 194.61,558.50 194.82,559.25 194.06,559.44 193.53,560.00 192.99,559.44 192.23,559.25 192.44,558.50 192.23,557.75 192.99,557.56" fill="#2e2e2e"/>
<polygon points="197.08,557.00 197.62,557.56 198.37,557.75 198.16,558.50 198.37,559.25 197.62,559.44 197.08,560.00 196.54,559.44 195.78,559.25 196.00,558.50 195.78,557.75 196.54,557.56" fill="#2e2e2e"/>
<polygon points="200.62,557.00 201.16,557.56 201.92,557.75 201.71,558.50 201.92,559.25 201.16,559.44 200.62,560.00 200.09,559.44 199.33,559.25 199.54,558.50 199.33,557.75 200.09,557.56" fill="#2e2e2e"/>
<polyline points="186.00,569.10 186.00,567.10 225.60,567.10 225.60,569.10" fill="none" stroke="#555" stroke-width="0.8"/>
<polygon points="200.88,564.20 201.41,564.76 202.17,564.95 201.96,565.70 202.17,566.45 201.41,566.64 200.88,567.20 200.34,566.64 199.58,566.45 199.79,565.70 199.58,564.95 200.34,564.76" fill="#2e2e2e"/>
<polygon points="204.42,564.20 204.96,564.76 205.72,564.95 205.50,565.70 205.72,566.45 204.96,566.64 204.42,567.20 203.88,566.64 203.13,566.45 203.34,565.70 203.13,564.95 203.88,564.76" fill="#2e2e2e"/>
<polygon points="207.97,564.20 208.51,564.76 209.27,564.95 209.06,565.70 209.27,566.45 208.51,566.64 207.97,567.20 207.44,566.64 206.68,566.45 206.89,565.70 206.68,564.95 207.44,564.76" fill="#2e2e2e"/>
<polygon points="211.52,564.20 212.06,564.76 212.82,564.95 212.60,565.70 212.82,566.45 212.06,566.64 211.52,567.20 210.98,566.64 210.23,566.45 210.44,565.70 210.23,564.95 210.98,564.76" fill="#2e2e2e"/>
<polyline points="166.90,577.80 166.90,575.80 206.90,575.80 206.90,577.80" fill="none" stroke="#555" stroke-width="0.8"/>
<polygon points="182.08,571.70 182.62,572.26 183.37,572.45 183.16,573.20 183.37,573.95 182.62,574.14 182.08,574.70 181.54,574.14 180.78,573.95 181.00,573.20 180.78,572.45 181.54,572.26" fill="#2e2e2e"/>
<polygon points="185.62,571.70 186.16,572.26 186.92,572.45 186.71,573.20 186.92,573.95 186.16,574.14 185.62,574.70 185.09,574.14 184.33,573.95 184.54,573.20 184.33,572.45 185.09,572.26" fill="#2e2e2e"/>
<polygon points="189.18,571.70 189.72,572.26 190.47,572.45 190.26,573.20 190.47,573.95 189.72,574.14 189.18,574.70 188.64,574.14 187.88,573.95 188.09,573.20 187.88,572.45 188.64,572.26" fill="#2e2e2e"/>
<polygon points="192.72,571.70 193.26,572.26 194.02,572.45 193.81,573.20 194.02,573.95 193.26,574.14 192.72,574.70 192.19,574.14 191.43,573.95 191.64,573.20 191.43,572.45 192.19,572.26" fill="#2e2e2e"/>
<polyline points="166.90,585.40 166.90,583.40 186.70,583.40 186.70,585.40" fill="none" stroke="#555" stroke-width="0.8"/>
<polygon points="171.98,579.10 172.52,579.66 173.27,579.85 173.06,580.60 173.27,581.35 172.52,581.54 171.98,582.10 171.44,581.54 170.68,581.35 170.90,580.60 170.68,579.85 171.44,579.66" fill="#2e2e2e"/>
<polygon points="175.53,579.10 176.06,579.66 176.82,579.85 176.61,580.60 176.82,581.35 176.06,581.54 175.53,582.10 174.99,581.54 174.23,581.35 174.44,580.60 174.23,579.85 174.99,579.66" fill="#2e2e2e"/>
<polygon points="179.08,579.10 179.62,579.66 180.37,579.85 180.16,580.60 180.37,581.35 179.62,581.54 179.08,582.10 178.54,581.54 177.78,581.35 178.00,580.60 177.78,579.85 178.54,579.66" fill="#2e2e2e"/>
<polygon points="182.62,579.10 183.16,579.66 183.92,579.85 183.71,580.60 183.92,581.35 183.16,581.54 182.62,582.10 182.09,581.54 181.33,581.35 181.54,580.60 181.33,579.85 182.09,579.66" fill="#2e2e2e"/>
<polyline points="186.00,588.60 186.00,586.60 206.90,586.60 206.90,588.60" fill="none" stroke="#555" stroke-width="0.8"/>
<polygon points="192.55,581.10 193.09,581.66 193.85,581.85 193.63,582.60 193.85,583.35 193.09,583.54 192.55,584.10 192.01,583.54 191.25,583.35 191.47,582.60 191.25,581.85 192.01,581.66" fill="#2e2e2e"/>
<polygon points="196.10,581.10 196.64,581.66 197.40,581.85 197.18,582.60 197.40,583.35 196.64,583.54 196.10,584.10 195.56,583.54 194.80,583.35 195.02,582.60 194.80,581.85 195.56,581.66" fill="#2e2e2e"/>
<polygon points="199.65,581.10 200.19,581.66 200.95,581.85 200.73,582.60 200.95,583.35 200.19,583.54 199.65,584.10 199.11,583.54 198.35,583.35 198.57,582.60 198.35,581.85 199.11,581.66" fill="#2e2e2e"/>
<polyline points="206.90,591.90 206.90,589.90 225.60,589.90 225.60,591.90" fill="none" stroke="#555" stroke-width="0.8"/>
<polygon points="216.70,583.70 217.24,584.26 218.00,584.45 217.78,585.20 218.00,585.95 217.24,586.14 216.70,586.70 216.16,586.14 215.40,585.95 215.62,585.20 215.40,584.45 216.16,584.26" fill="#2e2e2e"/>
<text x="147.60" y="657.20" font-size="8.2" text-anchor="end" stroke="#2b2b2b" stroke-width="0.12" ><tspan font-style="italic">TP53</tspan> deletion</text>
<text x="147.60" y="668.70" font-size="8.2" text-anchor="end" stroke="#2b2b2b" stroke-width="0.12" ><tspan font-style="italic">TP53</tspan> mutation</text>
<text x="147.60" y="680.60" font-size="8.2" text-anchor="end" stroke="#2b2b2b" stroke-width="0.12" >number</text>
<text x="167.50" y="657.20" font-size="8.2" text-anchor="middle" stroke="#2b2b2b" stroke-width="0.12" >−</text>
<text x="186.60" y="657.20" font-size="8.2" text-anchor="middle" stroke="#2b2b2b" stroke-width="0.12" >+</text>
<text x="206.30" y="657.20" font-size="8.2" text-anchor="middle" stroke="#2b2b2b" stroke-width="0.12" >−</text>
<text x="225.50" y="657.20" font-size="8.2" text-anchor="middle" stroke="#2b2b2b" stroke-width="0.12" >+</text>
<text x="167.50" y="668.70" font-size="8.2" text-anchor="middle" stroke="#2b2b2b" stroke-width="0.12" >−</text>
<text x="186.60" y="668.70" font-size="8.2" text-anchor="middle" stroke="#2b2b2b" stroke-width="0.12" >−</text>
<text x="206.30" y="668.70" font-size="8.2" text-anchor="middle" stroke="#2b2b2b" stroke-width="0.12" >+</text>
<text x="225.50" y="668.70" font-size="8.2" text-anchor="middle" stroke="#2b2b2b" stroke-width="0.12" >+</text>
<text x="167.50" y="680.60" font-size="8.2" text-anchor="middle" stroke="#2b2b2b" stroke-width="0.12" >314</text>
<text x="186.60" y="680.60" font-size="8.2" text-anchor="middle" stroke="#2b2b2b" stroke-width="0.12" >88</text>
<text x="206.30" y="680.60" font-size="8.2" text-anchor="middle" stroke="#2b2b2b" stroke-width="0.12" >440</text>
<text x="225.50" y="680.60" font-size="8.2" text-anchor="middle" stroke="#2b2b2b" stroke-width="0.12" >263</text>
<text x="289.40" y="541.50" font-size="9.7" text-anchor="middle" stroke="#2b2b2b" stroke-width="0.12" >Cancer cell lines (n = 1,105)</text>
<line x1="314.70" y1="550.00" x2="314.70" y2="644.20" stroke="#2b2b2b" stroke-width="1.1" />
<line x1="314.20" y1="643.80" x2="424.40" y2="643.80" stroke="#2b2b2b" stroke-width="1.1" />
<line x1="311.60" y1="553.05" x2="314.70" y2="553.05" stroke="#2b2b2b" stroke-width="1" />
<text x="308.20" y="555.75" font-size="7.8" text-anchor="end" stroke="#2b2b2b" stroke-width="0.12" >0.7</text>
<line x1="311.60" y1="575.75" x2="314.70" y2="575.75" stroke="#2b2b2b" stroke-width="1" />
<text x="308.20" y="578.45" font-size="7.8" text-anchor="end" stroke="#2b2b2b" stroke-width="0.12" >0.5</text>
<line x1="311.60" y1="598.45" x2="314.70" y2="598.45" stroke="#2b2b2b" stroke-width="1" />
<text x="308.20" y="601.15" font-size="7.8" text-anchor="end" stroke="#2b2b2b" stroke-width="0.12" >0.3</text>
<line x1="311.60" y1="621.15" x2="314.70" y2="621.15" stroke="#2b2b2b" stroke-width="1" />
<text x="308.20" y="623.85" font-size="7.8" text-anchor="end" stroke="#2b2b2b" stroke-width="0.12" >0.1</text>
<line x1="311.60" y1="643.85" x2="314.70" y2="643.85" stroke="#2b2b2b" stroke-width="1" />
<text x="308.20" y="646.55" font-size="7.8" text-anchor="end" stroke="#2b2b2b" stroke-width="0.12" >−0.1</text>
<text x="287.80" y="596.90" font-size="9.5" text-anchor="middle" stroke="#2b2b2b" stroke-width="0.12" textLength="31.7" lengthAdjust="spacingAndGlyphs" transform="rotate(-90 287.80 596.90)" >p53 score</text>
<line x1="326.80" y1="643.80" x2="326.80" y2="646.80" stroke="#2b2b2b" stroke-width="1" />
<line x1="344.40" y1="643.80" x2="344.40" y2="646.80" stroke="#2b2b2b" stroke-width="1" />
<line x1="362.30" y1="643.80" x2="362.30" y2="646.80" stroke="#2b2b2b" stroke-width="1" />
<line x1="380.50" y1="643.80" x2="380.50" y2="646.80" stroke="#2b2b2b" stroke-width="1" />
<line x1="398.30" y1="643.80" x2="398.30" y2="646.80" stroke="#2b2b2b" stroke-width="1" />
<line x1="416.30" y1="643.80" x2="416.30" y2="646.80" stroke="#2b2b2b" stroke-width="1" />
<line x1="326.80" y1="584.26" x2="326.80" y2="631.71" stroke="#2a2a2a" stroke-width="0.9" />
<path d="M327.10,590.73 L329.80,593.34 L331.80,596.18 L332.80,598.79 L331.80,602.99 L330.30,607.98 L329.10,613.21 L328.30,618.43 L327.60,623.42 L327.10,627.96 L326.50,627.96 L326.00,623.42 L325.30,618.43 L324.50,613.21 L323.30,607.98 L321.80,602.99 L320.80,598.79 L321.80,596.18 L323.80,593.34 L326.50,590.73 Z" fill="#2b2788" stroke="#2a2a2a" stroke-width="0.7" stroke-linejoin="round"/>
<line x1="344.40" y1="587.10" x2="344.40" y2="632.16" stroke="#2a2a2a" stroke-width="0.9" />
<path d="M344.70,591.75 L347.40,593.91 L349.90,598.22 L349.90,601.86 L349.60,605.26 L350.00,608.66 L349.70,613.21 L350.00,616.04 L349.70,622.40 L346.90,625.69 L344.70,628.75 L344.10,628.75 L341.90,625.69 L339.10,622.40 L338.80,616.04 L339.10,613.21 L338.80,608.66 L339.20,605.26 L338.90,601.86 L338.90,598.22 L341.40,593.91 L344.10,591.75 Z" fill="#ee3a1c" stroke="#2a2a2a" stroke-width="0.7" stroke-linejoin="round"/>
<line x1="338.90" y1="601.86" x2="349.90" y2="601.86" stroke="#8a2010" stroke-width="0.7" />
<line x1="338.80" y1="608.66" x2="350.00" y2="608.66" stroke="#8a2010" stroke-width="0.7" />
<line x1="338.80" y1="616.04" x2="350.00" y2="616.04" stroke="#8a2010" stroke-width="0.7" />
<line x1="362.30" y1="606.39" x2="362.30" y2="627.62" stroke="#2a2a2a" stroke-width="0.9" />
<path d="M362.60,610.93 L363.80,613.21 L363.50,614.91 L365.80,616.61 L368.30,618.88 L366.80,621.15 L364.30,624.55 L362.50,627.62 L362.10,627.62 L360.30,624.55 L357.80,621.15 L356.30,618.88 L358.80,616.61 L361.10,614.91 L360.80,613.21 L362.00,610.93 Z" fill="#ee3a1c" stroke="#2a2a2a" stroke-width="0.7" stroke-linejoin="round"/>
<line x1="356.30" y1="618.88" x2="368.30" y2="618.88" stroke="#8a2010" stroke-width="0.7" />
<line x1="380.50" y1="589.37" x2="380.50" y2="639.31" stroke="#2a2a2a" stroke-width="0.9" />
<path d="M380.80,604.92 L382.50,607.19 L386.00,611.28 L386.50,615.25 L385.50,618.88 L384.50,621.04 L382.00,625.69 L380.80,627.39 L380.20,627.39 L379.00,625.69 L376.50,621.04 L375.50,618.88 L374.50,615.25 L375.00,611.28 L378.50,607.19 L380.20,604.92 Z" fill="#b45bc2" stroke="#2a2a2a" stroke-width="0.7" stroke-linejoin="round"/>
<line x1="374.50" y1="615.25" x2="386.50" y2="615.25" stroke="#7a2a80" stroke-width="0.7" />
<line x1="398.30" y1="593.34" x2="398.30" y2="633.18" stroke="#2a2a2a" stroke-width="0.9" />
<path d="M398.60,607.19 L400.30,609.80 L401.80,611.28 L404.30,615.25 L402.80,618.31 L401.30,621.15 L399.30,625.69 L398.60,627.96 L398.00,627.96 L397.30,625.69 L395.30,621.15 L393.80,618.31 L392.30,615.25 L394.80,611.28 L396.30,609.80 L398.00,607.19 Z" fill="#b45bc2" stroke="#2a2a2a" stroke-width="0.7" stroke-linejoin="round"/>
<line x1="392.30" y1="615.25" x2="404.30" y2="615.25" stroke="#7a2a80" stroke-width="0.7" />
<line x1="416.30" y1="592.21" x2="416.30" y2="637.83" stroke="#2a2a2a" stroke-width="0.9" />
<path d="M416.60,606.05 L418.80,608.66 L420.80,610.93 L422.30,616.61 L421.60,621.15 L420.80,623.42 L418.80,626.83 L416.60,630.23 L416.00,630.23 L413.80,626.83 L411.80,623.42 L411.00,621.15 L410.30,616.61 L411.80,610.93 L413.80,608.66 L416.00,606.05 Z" fill="#f7a21b" stroke="#2a2a2a" stroke-width="0.7" stroke-linejoin="round"/>
<line x1="410.42" y1="617.40" x2="422.18" y2="617.40" stroke="#8a5010" stroke-width="0.7" />
<line x1="327.70" y1="551.30" x2="415.60" y2="551.30" stroke="#555" stroke-width="0.8" />
<polygon points="390.98,547.20 391.52,547.76 392.27,547.95 392.06,548.70 392.27,549.45 391.52,549.64 390.98,550.20 390.44,549.64 389.68,549.45 389.90,548.70 389.68,547.95 390.44,547.76" fill="#2e2e2e"/>
<polygon points="394.53,547.20 395.07,547.76 395.82,547.95 395.61,548.70 395.82,549.45 395.07,549.64 394.53,550.20 393.99,549.64 393.23,549.45 393.45,548.70 393.23,547.95 393.99,547.76" fill="#2e2e2e"/>
<polygon points="398.07,547.20 398.62,547.76 399.37,547.95 399.15,548.70 399.37,549.45 398.62,549.64 398.07,550.20 397.53,549.64 396.78,549.45 397.00,548.70 396.78,547.95 397.53,547.76" fill="#2e2e2e"/>
<polygon points="401.62,547.20 402.17,547.76 402.92,547.95 402.70,548.70 402.92,549.45 402.17,549.64 401.62,550.20 401.08,549.64 400.33,549.45 400.55,548.70 400.33,547.95 401.08,547.76" fill="#2e2e2e"/>
<line x1="327.70" y1="556.00" x2="398.80" y2="556.00" stroke="#555" stroke-width="0.8" />
<polygon points="375.88,552.20 376.42,552.76 377.17,552.95 376.95,553.70 377.17,554.45 376.42,554.64 375.88,555.20 375.33,554.64 374.58,554.45 374.80,553.70 374.58,552.95 375.33,552.76" fill="#2e2e2e"/>
<polygon points="379.43,552.20 379.97,552.76 380.72,552.95 380.50,553.70 380.72,554.45 379.97,554.64 379.43,555.20 378.88,554.64 378.13,554.45 378.35,553.70 378.13,552.95 378.88,552.76" fill="#2e2e2e"/>
<polygon points="382.97,552.20 383.51,552.76 384.27,552.95 384.05,553.70 384.27,554.45 383.51,554.64 382.97,555.20 382.43,554.64 381.68,554.45 381.89,553.70 381.68,552.95 382.43,552.76" fill="#2e2e2e"/>
<polygon points="386.52,552.20 387.06,552.76 387.82,552.95 387.60,553.70 387.82,554.45 387.06,554.64 386.52,555.20 385.98,554.64 385.23,554.45 385.44,553.70 385.23,552.95 385.98,552.76" fill="#2e2e2e"/>
<line x1="327.70" y1="560.80" x2="380.60" y2="560.80" stroke="#555" stroke-width="0.8" />
<polygon points="357.68,557.10 358.22,557.66 358.97,557.85 358.75,558.60 358.97,559.35 358.22,559.54 357.68,560.10 357.13,559.54 356.38,559.35 356.60,558.60 356.38,557.85 357.13,557.66" fill="#2e2e2e"/>
<polygon points="361.23,557.10 361.77,557.66 362.52,557.85 362.31,558.60 362.52,559.35 361.77,559.54 361.23,560.10 360.69,559.54 359.93,559.35 360.15,558.60 359.93,557.85 360.69,557.66" fill="#2e2e2e"/>
<polygon points="364.77,557.10 365.31,557.66 366.07,557.85 365.85,558.60 366.07,559.35 365.31,559.54 364.77,560.10 364.23,559.54 363.48,559.35 363.69,558.60 363.48,557.85 364.23,557.66" fill="#2e2e2e"/>
<polygon points="368.32,557.10 368.87,557.66 369.62,557.85 369.40,558.60 369.62,559.35 368.87,559.54 368.32,560.10 367.78,559.54 367.03,559.35 367.25,558.60 367.03,557.85 367.78,557.66" fill="#2e2e2e"/>
<line x1="327.70" y1="565.60" x2="363.30" y2="565.60" stroke="#555" stroke-width="0.8" />
<polygon points="343.88,561.90 344.42,562.46 345.17,562.65 344.95,563.40 345.17,564.15 344.42,564.34 343.88,564.90 343.33,564.34 342.58,564.15 342.80,563.40 342.58,562.65 343.33,562.46" fill="#2e2e2e"/>
<polygon points="347.43,561.90 347.97,562.46 348.72,562.65 348.50,563.40 348.72,564.15 347.97,564.34 347.43,564.90 346.88,564.34 346.13,564.15 346.35,563.40 346.13,562.65 346.88,562.46" fill="#2e2e2e"/>
<polygon points="350.97,561.90 351.51,562.46 352.27,562.65 352.05,563.40 352.27,564.15 351.51,564.34 350.97,564.90 350.43,564.34 349.68,564.15 349.89,563.40 349.68,562.65 350.43,562.46" fill="#2e2e2e"/>
<polygon points="354.52,561.90 355.06,562.46 355.82,562.65 355.60,563.40 355.82,564.15 355.06,564.34 354.52,564.90 353.98,564.34 353.23,564.15 353.44,563.40 353.23,562.65 353.98,562.46" fill="#2e2e2e"/>
<line x1="327.70" y1="570.00" x2="342.70" y2="570.00" stroke="#555" stroke-width="0.8" />
<polygon points="331.65,566.50 332.19,567.06 332.95,567.25 332.73,568.00 332.95,568.75 332.19,568.94 331.65,569.50 331.11,568.94 330.35,568.75 330.57,568.00 330.35,567.25 331.11,567.06" fill="#2e2e2e"/>
<polygon points="335.20,566.50 335.74,567.06 336.50,567.25 336.28,568.00 336.50,568.75 335.74,568.94 335.20,569.50 334.66,568.94 333.90,568.75 334.12,568.00 333.90,567.25 334.66,567.06" fill="#2e2e2e"/>
<polygon points="338.75,566.50 339.29,567.06 340.05,567.25 339.83,568.00 340.05,568.75 339.29,568.94 338.75,569.50 338.21,568.94 337.45,568.75 337.67,568.00 337.45,567.25 338.21,567.06" fill="#2e2e2e"/>
<line x1="345.40" y1="570.00" x2="415.60" y2="570.00" stroke="#555" stroke-width="0.8" />
<polygon points="392.68,566.20 393.22,566.76 393.97,566.95 393.75,567.70 393.97,568.45 393.22,568.64 392.68,569.20 392.13,568.64 391.38,568.45 391.60,567.70 391.38,566.95 392.13,566.76" fill="#2e2e2e"/>
<polygon points="396.23,566.20 396.77,566.76 397.52,566.95 397.31,567.70 397.52,568.45 396.77,568.64 396.23,569.20 395.69,568.64 394.93,568.45 395.15,567.70 394.93,566.95 395.69,566.76" fill="#2e2e2e"/>
<polygon points="399.77,566.20 400.31,566.76 401.07,566.95 400.85,567.70 401.07,568.45 400.31,568.64 399.77,569.20 399.23,568.64 398.48,568.45 398.69,567.70 398.48,566.95 399.23,566.76" fill="#2e2e2e"/>
<polygon points="403.32,566.20 403.87,566.76 404.62,566.95 404.40,567.70 404.62,568.45 403.87,568.64 403.32,569.20 402.78,568.64 402.03,568.45 402.25,567.70 402.03,566.95 402.78,566.76" fill="#2e2e2e"/>
<line x1="345.40" y1="574.80" x2="398.80" y2="574.80" stroke="#555" stroke-width="0.8" />
<polygon points="375.88,571.00 376.42,571.56 377.17,571.75 376.95,572.50 377.17,573.25 376.42,573.44 375.88,574.00 375.33,573.44 374.58,573.25 374.80,572.50 374.58,571.75 375.33,571.56" fill="#2e2e2e"/>
<polygon points="379.43,571.00 379.97,571.56 380.72,571.75 380.50,572.50 380.72,573.25 379.97,573.44 379.43,574.00 378.88,573.44 378.13,573.25 378.35,572.50 378.13,571.75 378.88,571.56" fill="#2e2e2e"/>
<polygon points="382.97,571.00 383.51,571.56 384.27,571.75 384.05,572.50 384.27,573.25 383.51,573.44 382.97,574.00 382.43,573.44 381.68,573.25 381.89,572.50 381.68,571.75 382.43,571.56" fill="#2e2e2e"/>
<polygon points="386.52,571.00 387.06,571.56 387.82,571.75 387.60,572.50 387.82,573.25 387.06,573.44 386.52,574.00 385.98,573.44 385.23,573.25 385.44,572.50 385.23,571.75 385.98,571.56" fill="#2e2e2e"/>
<line x1="345.40" y1="579.60" x2="380.60" y2="579.60" stroke="#555" stroke-width="0.8" />
<polygon points="360.07,575.80 360.62,576.36 361.37,576.55 361.15,577.30 361.37,578.05 360.62,578.24 360.07,578.80 359.53,578.24 358.78,578.05 359.00,577.30 358.78,576.55 359.53,576.36" fill="#2e2e2e"/>
<polygon points="363.62,575.80 364.17,576.36 364.92,576.55 364.70,577.30 364.92,578.05 364.17,578.24 363.62,578.80 363.08,578.24 362.33,578.05 362.55,577.30 362.33,576.55 363.08,576.36" fill="#2e2e2e"/>
<polygon points="367.17,575.80 367.71,576.36 368.47,576.55 368.25,577.30 368.47,578.05 367.71,578.24 367.17,578.80 366.63,578.24 365.88,578.05 366.09,577.30 365.88,576.55 366.63,576.36" fill="#2e2e2e"/>
<polygon points="370.72,575.80 371.26,576.36 372.02,576.55 371.80,577.30 372.02,578.05 371.26,578.24 370.72,578.80 370.18,578.24 369.43,578.05 369.64,577.30 369.43,576.55 370.18,576.36" fill="#2e2e2e"/>
<line x1="345.40" y1="584.40" x2="360.80" y2="584.40" stroke="#555" stroke-width="0.8" />
<polygon points="347.38,580.60 347.92,581.16 348.67,581.35 348.45,582.10 348.67,582.85 347.92,583.04 347.38,583.60 346.83,583.04 346.08,582.85 346.30,582.10 346.08,581.35 346.83,581.16" fill="#2e2e2e"/>
<polygon points="350.93,580.60 351.47,581.16 352.22,581.35 352.00,582.10 352.22,582.85 351.47,583.04 350.93,583.60 350.38,583.04 349.63,582.85 349.85,582.10 349.63,581.35 350.38,581.16" fill="#2e2e2e"/>
<polygon points="354.47,580.60 355.01,581.16 355.77,581.35 355.55,582.10 355.77,582.85 355.01,583.04 354.47,583.60 353.93,583.04 353.18,582.85 353.39,582.10 353.18,581.35 353.93,581.16" fill="#2e2e2e"/>
<polygon points="358.02,580.60 358.56,581.16 359.32,581.35 359.10,582.10 359.32,582.85 358.56,583.04 358.02,583.60 357.48,583.04 356.73,582.85 356.94,582.10 356.73,581.35 357.48,581.16" fill="#2e2e2e"/>
<line x1="364.60" y1="584.40" x2="379.20" y2="584.40" stroke="#555" stroke-width="0.8" />
<polygon points="372.30,580.40 372.84,580.96 373.60,581.15 373.38,581.90 373.60,582.65 372.84,582.84 372.30,583.40 371.76,582.84 371.00,582.65 371.22,581.90 371.00,581.15 371.76,580.96" fill="#2e2e2e"/>
<line x1="381.20" y1="584.40" x2="415.60" y2="584.40" stroke="#555" stroke-width="0.8" />
<polygon points="398.80,580.40 399.34,580.96 400.10,581.15 399.88,581.90 400.10,582.65 399.34,582.84 398.80,583.40 398.26,582.84 397.50,582.65 397.72,581.90 397.50,581.15 398.26,580.96" fill="#2e2e2e"/>
<text x="308.60" y="657.20" font-size="8.2" text-anchor="end" stroke="#2b2b2b" stroke-width="0.12" >deleted allele (n)</text>
<text x="308.60" y="668.70" font-size="8.2" text-anchor="end" stroke="#2b2b2b" stroke-width="0.12" >mutated allele (n)</text>
<text x="308.40" y="680.60" font-size="8.2" text-anchor="end" stroke="#2b2b2b" stroke-width="0.12" >number</text>
<text x="326.80" y="657.20" font-size="8.2" text-anchor="middle" stroke="#2b2b2b" stroke-width="0.12" >0</text>
<text x="344.40" y="657.20" font-size="8.2" text-anchor="middle" stroke="#2b2b2b" stroke-width="0.12" >1</text>
<text x="362.30" y="657.20" font-size="8.2" text-anchor="middle" stroke="#2b2b2b" stroke-width="0.12" >2</text>
<text x="380.50" y="657.20" font-size="8.2" text-anchor="middle" stroke="#2b2b2b" stroke-width="0.12" >0</text>
<text x="398.30" y="657.20" font-size="8.2" text-anchor="middle" stroke="#2b2b2b" stroke-width="0.12" >0</text>
<text x="416.30" y="657.20" font-size="8.2" text-anchor="middle" stroke="#2b2b2b" stroke-width="0.12" >1</text>
<text x="326.80" y="668.70" font-size="8.2" text-anchor="middle" stroke="#2b2b2b" stroke-width="0.12" >0</text>
<text x="344.40" y="668.70" font-size="8.2" text-anchor="middle" stroke="#2b2b2b" stroke-width="0.12" >0</text>
<text x="362.30" y="668.70" font-size="8.2" text-anchor="middle" stroke="#2b2b2b" stroke-width="0.12" >0</text>
<text x="380.50" y="668.70" font-size="8.2" text-anchor="middle" stroke="#2b2b2b" stroke-width="0.12" >1</text>
<text x="398.30" y="668.70" font-size="8.2" text-anchor="middle" stroke="#2b2b2b" stroke-width="0.12" >2</text>
<text x="416.30" y="668.70" font-size="8.2" text-anchor="middle" stroke="#2b2b2b" stroke-width="0.12" >1</text>
<text x="326.80" y="680.60" font-size="8.2" text-anchor="middle" stroke="#2b2b2b" stroke-width="0.12" >336</text>
<text x="344.40" y="680.60" font-size="8.2" text-anchor="middle" stroke="#2b2b2b" stroke-width="0.12" >77</text>
<text x="362.30" y="680.60" font-size="8.2" text-anchor="middle" stroke="#2b2b2b" stroke-width="0.12" >26</text>
<text x="380.50" y="680.60" font-size="8.2" text-anchor="middle" stroke="#2b2b2b" stroke-width="0.12" >373</text>
<text x="398.30" y="680.60" font-size="8.2" text-anchor="middle" stroke="#2b2b2b" stroke-width="0.12" >84</text>
<text x="416.30" y="680.60" font-size="8.2" text-anchor="middle" stroke="#2b2b2b" stroke-width="0.12" >277</text>
<rect x="0.5" y="0.5" width="519" height="689" fill="none" stroke="#505050" stroke-width="1"/>
</svg>
</body></html>
